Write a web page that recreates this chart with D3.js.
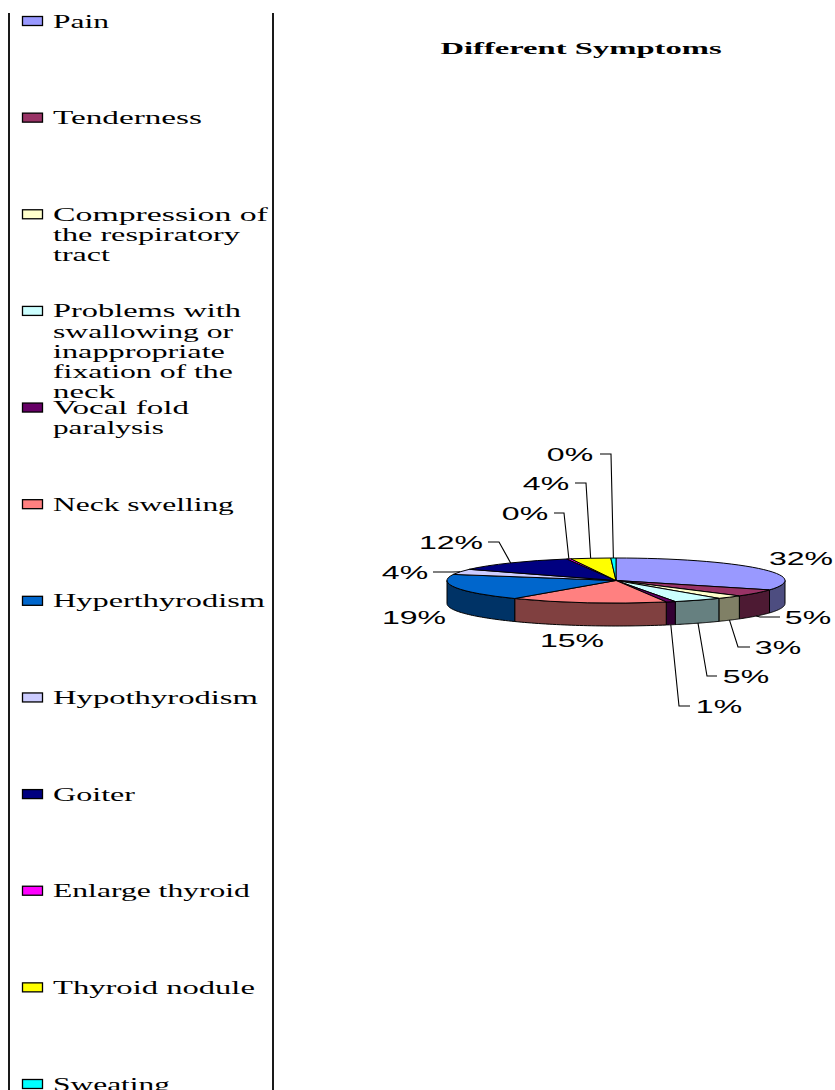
<!DOCTYPE html>
<html>
<head>
<meta charset="utf-8">
<script src="https://cdn.jsdelivr.net/npm/d3@7"></script>
<style>
  html, body { margin: 0; padding: 0; background: #fff; overflow: hidden; }
  svg { display: block; }
  .legend-text, .title { font-family: "Liberation Serif", serif; fill: #000; }
  .pct { font-family: "Liberation Sans", sans-serif; fill: #000; }
</style>
</head>
<body>
<svg id="chart" width="835" height="1090"></svg>
<script>
// Share of each symptom, in percent
const symptoms = ["Pain", "Tenderness", "Compression of the respiratory tract",
  "Problems with swallowing or inappropriate fixation of the neck", "Vocal fold paralysis",
  "Neck swelling", "Hyperthyrodism", "Hypothyrodism", "Goiter", "Enlarge thyroid",
  "Thyroid nodule", "Sweating"];
const shares = [31.8, 5.1, 2.6, 4.7, 0.9, 15.0, 19.1, 3.9, 12.0, 0.4, 3.8, 0.49];

// Wrapped legend lines and the width each one is set to
const legendLines = [["Pain"], ["Tenderness"], ["Compression of", "the respiratory", "tract"],
  ["Problems with", "swallowing or", "inappropriate", "fixation of the", "neck"],
  ["Vocal fold", "paralysis"], ["Neck swelling"], ["Hyperthyrodism"], ["Hypothyrodism"],
  ["Goiter"], ["Enlarge thyroid"], ["Thyroid nodule"], ["Sweating"]];
const legendWidths = [[56], [149], [215, 187, 57], [188, 180, 172, 180, 62], [136, 111],
  [181], [212], [205], [82], [197], [202], [117]];

const topColors = ["#9999FF", "#993366", "#FFFFCC", "#CCFFFF", "#660066", "#FF8080",
  "#0066CC", "#CCCCFF", "#000080", "#FF00FF", "#FFFF00", "#00FFFF"];
const wallColors = ["#4D4D80", "#4D1A33", "#808066", "#668080", "#330033", "#804040",
  "#003366", "#666680", "#000040", "#800080", "#808000", "#008080"];

// Layout of the percentage labels: centre of the text, and the elbow of its leader
const labelCentres = [[801, 558], [808, 617], [778, 647], [746, 676], [719, 706], [572, 640],
  [414, 617], [405, 572], [451, 542], [525, 513], [546, 483], [570, 454]];
const labelElbows = [null, [760, 617], [738, 647], [707, 676], [679, 706], null,
  null, [452, 572], [499, 542], [564, 513], [586, 483], [611, 454]];
const labelStarts = [null, 780, 750, 717, 690, null, null, 433, 488, 554, 575, 600];

const svg = d3.select("#chart");
const centre = { x: 616, y: 580.5 };
const rx = 169, ry = 22.5, depth = 23;

// Frame lines beside the legend
[9, 273].forEach(x => svg.append("line")
  .attr("x1", x).attr("x2", x).attr("y1", 13).attr("y2", 1090)
  .attr("stroke", "#1a1a1a").attr("stroke-width", 2));

// Title
svg.append("text").attr("class", "title")
  .attr("transform", "translate(581,54) scale(1.92,1)")
  .attr("text-anchor", "middle")
  .attr("font-size", 17).attr("font-weight", "bold")
  .text("Different Symptoms");

// Legend
const legendY = d3.scalePoint().domain(symptoms).range([21, 1084]);
const legend = svg.append("g").selectAll("g").data(symptoms).join("g")
  .attr("transform", d => `translate(0,${legendY(d)})`);
legend.append("rect")
  .attr("x", 22.5).attr("y", -4.5).attr("width", 20).attr("height", 9)
  .attr("fill", (d, i) => topColors[i])
  .attr("stroke", "#000").attr("stroke-width", 1.3);
legend.each(function (d, i) {
  d3.select(this).selectAll("text").data(legendLines[i]).join("text")
    .attr("class", "legend-text")
    .attr("font-size", 18)
    .text(t => t)
    .attr("transform", function (t, j) {
      const stretch = legendWidths[i][j] / this.getComputedTextLength();
      return `translate(53,${6.5 + j * 20.2}) scale(${stretch},1)`;
    });
});

// Pie angles, clockwise from twelve o'clock
const slices = d3.pie().sort(null)(shares);
const rimX = a => centre.x + rx * Math.sin(a);
const rimY = a => centre.y - ry * Math.cos(a);

// Outer walls: only the part of each slice on the near half of the ellipse
const wall = d3.line();
const pie = svg.append("g");
slices.forEach((s, i) => {
  const from = Math.max(s.startAngle, Math.PI / 2);
  const to = Math.min(s.endAngle, 3 * Math.PI / 2);
  if (to <= from) return;
  const steps = d3.range(0, 41).map(k => from + (to - from) * k / 40);
  const upper = steps.map(a => [rimX(a), rimY(a)]);
  const lower = steps.slice().reverse().map(a => [rimX(a), rimY(a) + depth]);
  pie.append("path")
    .attr("d", wall(upper.concat(lower)) + "Z")
    .attr("fill", wallColors[i])
    .attr("stroke", "#000").attr("stroke-width", 1);
});

// Top face: a circular arc flattened into the tilted ellipse
const arc = d3.arc().innerRadius(0).outerRadius(rx);
pie.append("g")
  .attr("transform", `translate(${centre.x},${centre.y}) scale(1,${ry / rx})`)
  .selectAll("path").data(slices).join("path")
  .attr("d", arc)
  .attr("fill", (d, i) => topColors[i])
  .attr("stroke", "#000").attr("stroke-width", 1)
  .attr("vector-effect", "non-scaling-stroke");

// Leaders from the rim to the labels
const leader = d3.line();
slices.forEach((s, i) => {
  const elbow = labelElbows[i];
  if (!elbow) return;
  const mid = (s.startAngle + s.endAngle) / 2;
  const onFront = Math.cos(mid) < 0;
  const anchor = [rimX(mid), rimY(mid) + (onFront ? depth : 0)];
  svg.append("path")
    .attr("d", leader([[labelStarts[i], labelCentres[i][1]], elbow, anchor]))
    .attr("fill", "none").attr("stroke", "#000").attr("stroke-width", 1.1);
});

// Percentage labels
svg.append("g").selectAll("text").data(shares).join("text")
  .attr("class", "pct")
  .attr("font-size", 17.5)
  .attr("text-anchor", "middle")
  .attr("transform", (d, i) => `translate(${labelCentres[i][0]},${labelCentres[i][1] + 7}) scale(1.83,1)`)
  .text(d => `${d3.format(".0f")(d)}%`);
</script>
</body>
</html>
